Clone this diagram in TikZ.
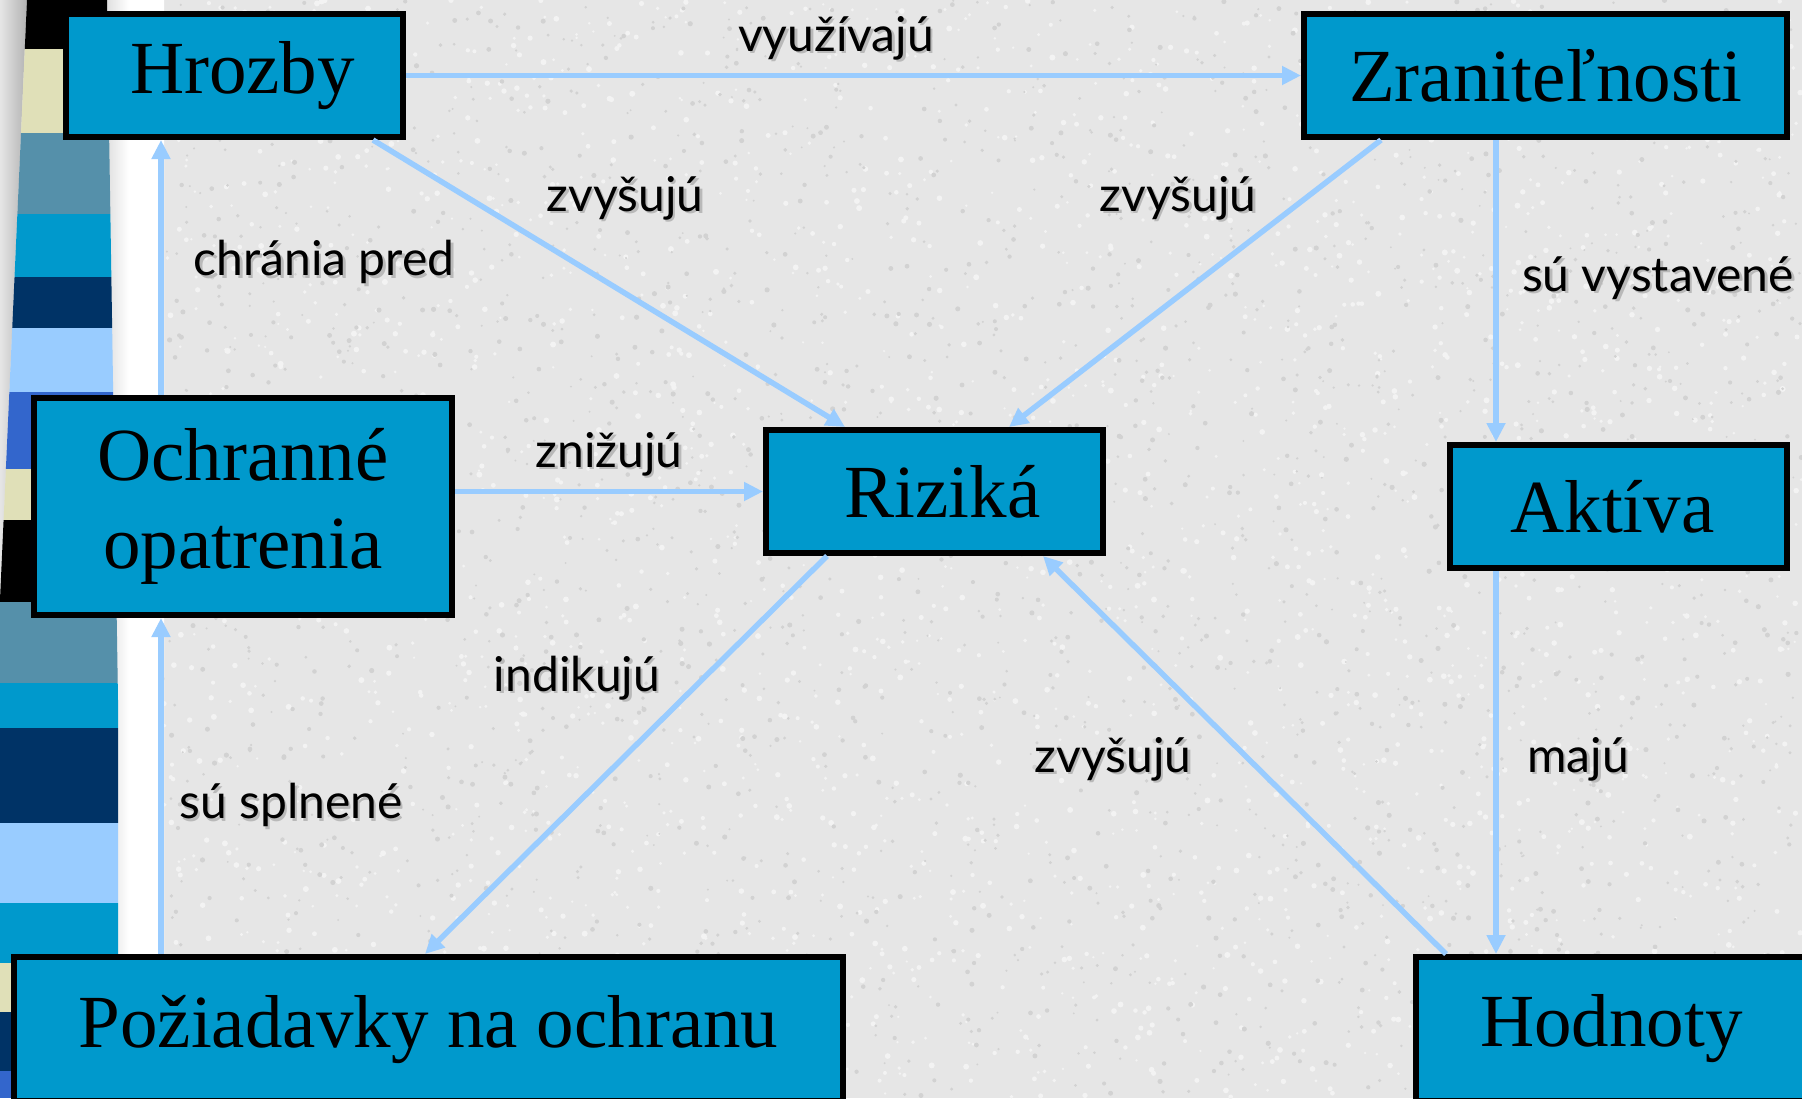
\documentclass[tikz,border=0pt]{standalone}
\usepackage{fontspec}
\setmainfont{Liberation Serif}
\newfontfamily\lblfont{Lato}
\usetikzlibrary{arrows.meta,calc}
\definecolor{boxblue}{HTML}{0099CC}
\definecolor{linkblue}{HTML}{99CCFF}
\definecolor{paper}{HTML}{E6E6E6}
\definecolor{speckhi}{HTML}{F3F3F3}
\definecolor{specklo}{HTML}{D2D2D2}
\definecolor{stripsteel}{HTML}{5590AA}
\definecolor{stripcyan}{HTML}{0099CC}
\definecolor{stripnavy}{HTML}{003366}
\definecolor{striplight}{HTML}{99CCFF}
\definecolor{striproyal}{HTML}{3366CC}
\definecolor{stripcream}{HTML}{E0E0B8}
\pgfdeclarehorizontalshading{bandshade}{100bp}{color(0bp)=(gray!60); color(45bp)=(white); color(100bp)=(white)}

% edge label with a soft drop shadow: name, position, text
\newcommand\linklabel[3]{%
  \node[lbl, text=gray!55] (#1s) at ($(#2)+(2.5,2.5)$) {#3};
  \node[lbl] (#1) at (#2) {#3};}

\begin{document}
\begin{tikzpicture}[x=1pt,y=-1pt,
  concept/.style={draw=black, line width=6pt, fill=boxblue, inner sep=0pt,
    font=\fontsize{75}{88}\selectfont, align=center},
  link/.style={draw=linkblue, line width=5.5pt, -{Triangle[length=19pt,width=18pt]}},
  lbl/.style={font=\lblfont\fontsize{48}{54}\selectfont, inner sep=0pt},
]
\useasboundingbox (0,0) rectangle (1802,1098);
\clip (0,0) rectangle (1802,1098);

% granite paper
\fill[paper] (0,0) rectangle (1802,1098);
\pgfmathsetseed{4711}
\foreach \i in {1,...,2800}{
  \pgfmathsetmacro\px{rnd*1802}\pgfmathsetmacro\py{rnd*1098}
  \pgfmathsetmacro\pr{1.2+rnd*1.8}
  \fill[speckhi] (\px,\py) circle (\pr);
}
\foreach \i in {1,...,2800}{
  \pgfmathsetmacro\px{rnd*1802}\pgfmathsetmacro\py{rnd*1098}
  \pgfmathsetmacro\pr{1+rnd*1.6}
  \fill[specklo] (\px,\py) circle (\pr);
}

% striped side bar
\shade[left color=gray!20, right color=gray!60] (0,0) -- (27,0) -- (0,600) -- cycle;
\shade[shading=bandshade] (105,0) -- (164,0) -- (164,1098) -- (118,1098) -- (118,700) -- cycle;
\begin{scope}
  \clip (27,0) -- (107,0) -- (118,700) -- (118,1098) -- (0,1098) -- (0,600) -- cycle;
  \foreach \ya/\yb/\c in {0/49/black, 49/133/stripcream, 133/214/stripsteel,
      214/277/stripcyan, 277/328/stripnavy, 328/392/striplight, 392/469/striproyal,
      469/520/stripcream, 520/602/black, 602/683/stripsteel, 683/728/stripcyan,
      728/823/stripnavy, 823/903/striplight, 903/963/stripcyan, 963/1012/stripcream,
      1012/1071/stripnavy, 1071/1098/striproyal}
    \fill[\c] (0,\ya) rectangle (130,\yb);
\end{scope}

% concepts
\node[concept, minimum width=337pt, minimum height=123pt] (hroz) at (234.5,75.5) {\hspace*{16pt}Hrozby};
\node[concept, minimum width=483pt, minimum height=123pt] (zran) at (1545.5,75.5) {Zraniteľnosti};
\node[concept, minimum width=418pt, minimum height=217pt] (ochr) at (243,506.5) {Ochranné\\opatrenia};
\node[concept, minimum width=337pt, minimum height=123pt] (riz) at (934.5,491.5) {\hspace*{16pt}Riziká};
\node[concept, minimum width=337pt, minimum height=123pt] (akt) at (1618.5,506.5) {Aktíva\hspace*{12pt}};
\node[concept, minimum width=829pt, minimum height=144pt] (poz) at (428.5,1029) {Požiadavky na ochranu};
\node[concept, minimum width=392pt, minimum height=144pt] (hod) at (1611.5,1029) {Hodnoty};

% relations
\draw[link] (hroz.east) -- (zran.west);
\draw[link] ($(hroz.south)+(138.5,0)$) -- ($(riz.north)+(-89.5,0)$);
\draw[link] ($(zran.south)+(-164.5,0)$) -- ($(riz.north)+(74.5,0)$);
\coordinate (za) at ($(zran.south)+(-49.5,0)$);
\draw[link] (za) -- (za |- akt.north);
\coordinate (oh) at ($(ochr.north)+(-82,0)$);
\draw[link] (oh) -- (oh |- hroz.south);
\draw[link] (ochr.east |- riz.west) -- (riz.west);
\draw[link] ($(riz.south)+(-107.5,0)$) -- ($(poz.north)+(-3.5,0)$);
\draw[link] ($(hod.north)+(-165.5,0)$) -- ($(riz.south)+(108.5,0)$);
\coordinate (ah) at ($(akt.south)+(-122.5,0)$);
\draw[link] (ah) -- (ah |- hod.north);
\coordinate (po) at ($(poz.north)+(-267.5,0)$);
\draw[link] (po) -- (po |- ochr.south);

% relation labels
\linklabel{lvyu}{836,38}{využívajú}
\linklabel{lzv1}{625,198}{zvyšujú}
\linklabel{lzv2}{1178,198}{zvyšujú}
\linklabel{lsuv}{1658,278}{sú vystavené}
\linklabel{lchr}{324,262}{chránia pred}
\linklabel{lzni}{609,454}{znižujú}
\linklabel{lind}{577,678}{indikujú}
\linklabel{lzv3}{1113,759}{zvyšujú}
\linklabel{lmaj}{1578,759}{majú}
\linklabel{lsus}{291,805}{sú splnené}
\end{tikzpicture}
\end{document}
